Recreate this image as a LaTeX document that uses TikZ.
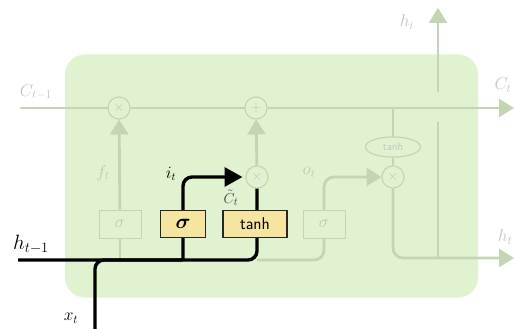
\documentclass[tikz,border=0pt]{standalone}
\usepackage{bm}
\usetikzlibrary{arrows.meta,shapes.geometric}
\definecolor{cellbg}{RGB}{224,242,207}
\definecolor{faint}{RGB}{196,213,182}
\definecolor{fainttext}{RGB}{192,200,186}
\definecolor{gateyel}{RGB}{246,229,160}
\begin{document}
\begin{tikzpicture}[x=1pt,y=-1pt,
  faintline/.style={draw=faint,line width=2.8pt,rounded corners=10pt},
  faintarrow/.style={faintline,-{Triangle[length=15pt,width=18pt]}},
  blackline/.style={draw=black,line width=3.4pt,rounded corners=9pt},
  blackarrow/.style={blackline,-{Triangle[length=18pt,width=19pt]}},
  opcirc/.style={circle,draw=faint,line width=1pt,minimum size=22pt,inner sep=0pt,fill=cellbg,text=fainttext,font=\fontsize{14}{16}\selectfont},
  tanhell/.style={ellipse,draw=faint,line width=1pt,minimum width=55pt,minimum height=20pt,inner sep=0pt,fill=cellbg,text=fainttext,font=\fontsize{11}{12}\selectfont\sffamily},
  gatebox/.style={draw=black!85,fill=gateyel,line width=1.3pt,minimum height=27pt,inner sep=0pt},
  faintbox/.style={draw=faint,line width=1pt,minimum width=42pt,minimum height=28pt,inner sep=0pt,fill=cellbg,text=fainttext,font=\fontsize{16}{18}\selectfont},
  flab/.style={text=fainttext,inner sep=0pt,font=\fontsize{18}{20}\selectfont},
  blab/.style={text=black,inner sep=0pt,font=\fontsize{18}{20}\selectfont}
]
\useasboundingbox (0,0) rectangle (514,329);
\fill[white] (0,0) rectangle (514,329);
\node[fill=cellbg,rounded corners=20pt,minimum width=413pt,minimum height=243pt,inner sep=0pt] (cell) at (271.5,176) {};

% operation nodes
\node[opcirc] (m1) at (119,108) {$\times$};
\node[opcirc] (m2) at (256,108) {$+$};
\node[opcirc] (m3) at (257,177) {$\times$};
\node[opcirc] (m4) at (393,177) {$\times$};
\node[tanhell] (tanhE) at (393,147) {tanh};

% faint gate boxes
\node[faintbox] (fbox) at (120,224) {$\sigma$};
\node[faintbox] (obox) at (324,224) {$\sigma$};

% coordinates
\coordinate (cin) at (20,108);
\coordinate (cout) at (514,108);
\coordinate (hin) at (18,260);
\coordinate (xin) at (95,329);
\coordinate (fjoin) at (120,260);
\coordinate (sjoin) at (183,260);
\coordinate (hcorner) at (257,260);
\coordinate (ctap) at (393,108);
\coordinate (hout) at (514,258);
\coordinate (hup1) at (438,258);
\coordinate (hup2) at (438,122);
\coordinate (hup3) at (438,92);
\coordinate (htop) at (438,8);

% faint connectors
\draw[faintline] (cin) -- (m1);
\draw[faintline] (m1) -- (m2);
\draw[faintarrow] (m2) -- (cout);
\draw[faintline] (fjoin) -- (fbox);
\draw[faintarrow] (fbox) -- (m1);
\draw[faintarrow] (m3) -- (m2);
\draw[faintline] (hcorner) -| (obox.south);
\draw[faintarrow] (obox.north) |- (m4);
\draw[faintline] (ctap) -- (tanhE);
\draw[faintline] (tanhE) -- (m4);
\draw[faintarrow] (m4) |- (hout);
\draw[faintline] (hup1) -- (hup2);
\draw[faintarrow] (hup3) -- (htop);

% redraw faint nodes on top of their connectors
\node[opcirc] at (m1) {$\times$};
\node[opcirc] at (m2) {$+$};
\node[opcirc] at (m3) {$\times$};
\node[opcirc] at (m4) {$\times$};
\node[tanhell] at (tanhE) {tanh};
\node[faintbox] at (fbox) {$\sigma$};
\node[faintbox] at (obox) {$\sigma$};

% black connectors
\draw[blackline] (hin) -| (m3.south);
\draw[blackline] (xin) |- (sjoin);
\draw[blackarrow,shorten >=3pt] (sjoin) |- (m3.west);

% active gate boxes
\node[gatebox,minimum width=45pt,font=\fontsize{22}{24}\selectfont] (sbox) at (183,224) {$\bm{\sigma}$};
\node[gatebox,minimum width=64pt,font=\fontsize{17}{18}\selectfont\sffamily] (tbox) at (255,224) {tanh};

% labels
\node[flab] (lc1) at (36,92) {$C_{t-1}$};
\node[flab] (lct) at (503,85) {$C_t$};
\node[flab,font=\fontsize{16}{18}\selectfont] (lht) at (407,22) {$h_t$};
\node[flab] (lhr) at (505,237) {$h_t$};
\node[flab] (lf) at (103,173) {$f_t$};
\node[flab,font=\fontsize{16}{18}\selectfont] (lo) at (309,172) {$o_t$};
\node[blab,font=\fontsize{16}{18}\selectfont] (li) at (171,174) {$i_t$};
\node[blab,text=black!75,font=\fontsize{15}{17}\selectfont] (lC) at (231,198) {$\tilde{C}_t$};
\node[blab,font=\fontsize{20}{22}\selectfont] (lh1) at (31,244) {$h_{t-1}$};
\node[blab] (lx) at (71,318) {$x_t$};
\end{tikzpicture}
\end{document}
